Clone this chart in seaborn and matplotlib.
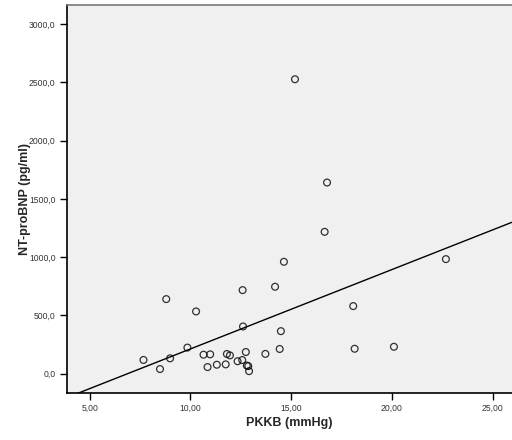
import matplotlib
matplotlib.use("Agg")
import matplotlib.pyplot as plt
import seaborn as sns
import numpy as np
import pandas as pd
from matplotlib.ticker import FixedLocator, FuncFormatter

pkkb = [7.67, 8.49, 8.80, 8.99, 9.85, 10.28, 10.65, 10.98, 10.85, 11.31, 11.75,
        11.81, 11.96, 12.34, 12.57, 12.59, 12.61, 12.75, 12.80, 12.87, 12.91,
        13.72, 14.20, 14.43, 14.49, 14.64, 15.19, 16.66, 16.78, 18.08, 18.15,
        20.10, 22.68]
ntprobnp = [118, 40, 640, 132, 224, 534, 163, 166, 57, 77, 80,
            169, 157, 107, 117, 717, 405, 186, 70, 65, 22,
            170, 746, 212, 365, 960, 2526, 1217, 1640, 580, 214,
            231, 983]
x_ticks = [5, 10, 15, 20, 25]
y_ticks = [0, 500, 1000, 1500, 2000, 2500, 3000]

df = pd.DataFrame({"PKKB (mmHg)": pkkb, "NT-proBNP (pg/ml)": ntprobnp})

sns.set_style("white")
plt.rcParams['font.family'] = ['Liberation Sans', 'DejaVu Sans']

fig = plt.figure(figsize=(5.12, 4.40), dpi=100)
ax = fig.add_axes([0.1303, 0.1075, 0.8697, 0.8811])
ax.set_facecolor("#f0f0f0")

xlim = (3.86, 25.96)
ylim = (-163, 3163)
ax.set_xlim(*xlim)
ax.set_ylim(*ylim)

sns.regplot(data=df, x="PKKB (mmHg)", y="NT-proBNP (pg/ml)", ax=ax, ci=None,
            truncate=False,
            scatter_kws=dict(s=24, facecolors="none", edgecolors="black", linewidths=0.9),
            line_kws=dict(color="black", linewidth=1.0))
ax.set_xlim(*xlim)
ax.set_ylim(*ylim)

ax.xaxis.set_major_locator(FixedLocator(x_ticks))
ax.yaxis.set_major_locator(FixedLocator(y_ticks))
ax.xaxis.set_major_formatter(FuncFormatter(lambda v, p: f"{v:.2f}".replace(".", ",")))
ax.yaxis.set_major_formatter(FuncFormatter(lambda v, p: f"{v:.1f}".replace(".", ",")))
ax.tick_params(axis="both", which="major", direction="out", length=5, width=1,
               labelsize=6.2, labelcolor="#333333", color="black", pad=3,
               bottom=True, left=True)

for side in ["left", "bottom"]:
    ax.spines[side].set_color("black")
    ax.spines[side].set_linewidth(1.2)
ax.spines["top"].set_color("#777777")
ax.spines["top"].set_linewidth(1.2)
ax.spines["right"].set_visible(False)

ax.set_xlabel("PKKB (mmHg)", fontsize=9, fontweight="bold")
ax.set_ylabel("NT-proBNP (pg/ml)", fontsize=9, fontweight="bold")
ax.xaxis.set_label_coords(0.50, -0.062)
ax.yaxis.set_label_coords(-0.080, 0.5)

fig.savefig("out.png", dpi=100)
